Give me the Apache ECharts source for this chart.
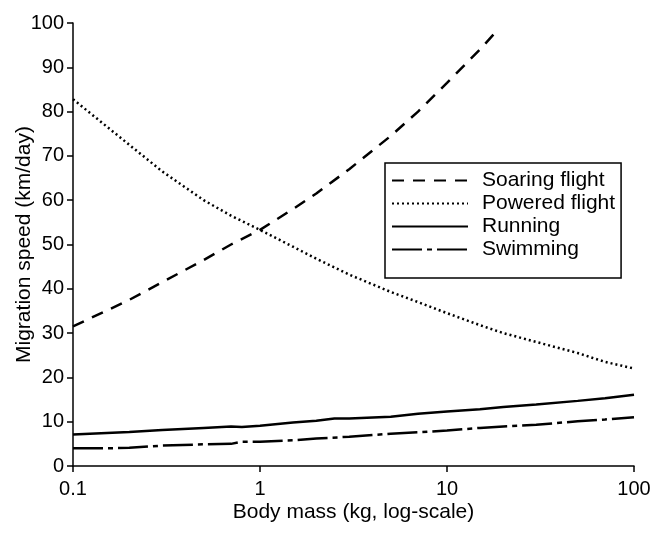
<!DOCTYPE html>
<html>
<head>
<meta charset="utf-8">
<style>
  html, body { margin: 0; height: 100%; background: #fff; }
  #chart { width: 664px; height: 538px; }
</style>
<script src="https://cdn.jsdelivr.net/npm/echarts@6/dist/echarts.min.js"></script>
</head>
<body>
<div id="chart"></div>
<script>
// values (body mass in kg, speed in km/day)
var soaringMass  = [0.1, 0.2, 0.3, 0.5, 0.7, 1, 1.5, 2, 3, 5, 7, 10, 15, 18.7];
var soaringSpeed = [31.5, 37.5, 41.5, 46.5, 50, 53.3, 58, 61.5, 67, 74.5, 80, 86.5, 94, 98.5];

var poweredMass  = [0.1, 0.2, 0.3, 0.5, 0.7, 1, 1.5, 2, 3, 5, 7, 10, 15, 20, 30, 50, 70, 100];
var poweredSpeed = [82.8, 72.5, 66.5, 60, 56.5, 53.3, 49.5, 46.8, 43.2, 39.3, 37, 34.5, 31.8, 30, 28, 25.5, 23.5, 22];

var runningMass  = [0.1, 0.2, 0.3, 0.5, 0.7, 0.8, 1, 1.5, 2, 2.5, 3, 5, 7, 10, 15, 20, 30, 50, 70, 100];
var runningSpeed = [7.1, 7.7, 8.1, 8.6, 8.9, 8.8, 9.1, 9.8, 10.2, 10.7, 10.7, 11.1, 11.8, 12.3, 12.8, 13.3, 13.9, 14.7, 15.3, 16.1];

var swimmingMass  = [0.1, 0.15, 0.2, 0.3, 0.5, 0.7, 0.8, 1, 1.5, 2, 3, 5, 7, 10, 15, 20, 30, 50, 70, 100];
var swimmingSpeed = [4.0, 4.0, 4.1, 4.6, 4.9, 5.0, 5.5, 5.5, 5.8, 6.2, 6.6, 7.3, 7.6, 8.0, 8.6, 8.9, 9.3, 10.1, 10.5, 11];

function pairs(xs, ys) {
  return xs.map(function (x, i) { return [x, ys[i]]; });
}

var font = 'Liberation Sans, Arial, Helvetica, sans-serif';
var chart = echarts.init(document.getElementById('chart'));

function line(name, xs, ys, dash) {
  return {
    name: name,
    type: 'line',
    data: pairs(xs, ys),
    showSymbol: false,
    symbol: 'none',
    lineStyle: { color: '#000', width: 2.5, type: dash },
    itemStyle: { color: '#000' },
    emphasis: { disabled: true },
    silent: true
  };
}

chart.setOption({
  animation: false,
  backgroundColor: '#fff',
  grid: { left: 73, right: 30, top: 23, bottom: 72, containLabel: false, outerBoundsMode: 'none' },
  legend: {
    orient: 'vertical',
    left: 385,
    top: 163,
    padding: [7, 6, 18, 6],
    itemWidth: 76,
    itemHeight: 14,
    itemGap: 2,
    borderColor: '#000',
    borderWidth: 1.5,
    backgroundColor: '#fff',
    selectedMode: false,
    itemStyle: { opacity: 0, borderWidth: 0 },
    data: ['Soaring flight', 'Powered flight', 'Running', 'Swimming'],
    textStyle: { color: '#000', fontSize: 21, lineHeight: 21, fontFamily: font, padding: [0, 0, 0, 9] }
  },
  xAxis: {
    type: 'log',
    logBase: 10,
    min: 0.1,
    max: 100,
    name: 'Body mass (kg, log-scale)',
    nameLocation: 'middle',
    nameGap: 36,
    nameMoveOverlap: false,
    nameTextStyle: { color: '#000', fontSize: 21, fontFamily: font },
    axisLine: { lineStyle: { color: '#000', width: 1.5 } },
    axisTick: { inside: false, length: 6, lineStyle: { color: '#000', width: 1.5 } },
    minorTick: { show: false },
    splitLine: { show: false },
    axisLabel: {
      color: '#000', fontSize: 20, fontFamily: font, margin: 13,
      formatter: function (v) { return v < 1 ? '0.1' : String(Math.round(v)); }
    }
  },
  yAxis: {
    type: 'value',
    min: 0,
    max: 100,
    interval: 10,
    name: 'Migration speed (km/day)',
    nameLocation: 'middle',
    nameGap: 38,
    nameMoveOverlap: false,
    nameTextStyle: { color: '#000', fontSize: 21, fontFamily: font },
    axisLine: { show: true, lineStyle: { color: '#000', width: 1.5 } },
    axisTick: { show: true, inside: false, length: 6, lineStyle: { color: '#000', width: 1.5 } },
    splitLine: { show: false },
    axisLabel: { color: '#000', fontSize: 20, fontFamily: font, margin: 9 }
  },
  series: [
    line('Soaring flight', soaringMass, soaringSpeed, [12, 9]),
    line('Powered flight', poweredMass, poweredSpeed, [2, 3]),
    line('Running', runningMass, runningSpeed, 'solid'),
    line('Swimming', swimmingMass, swimmingSpeed, [30, 5, 5, 5])
  ]
});
</script>
</body>
</html>
